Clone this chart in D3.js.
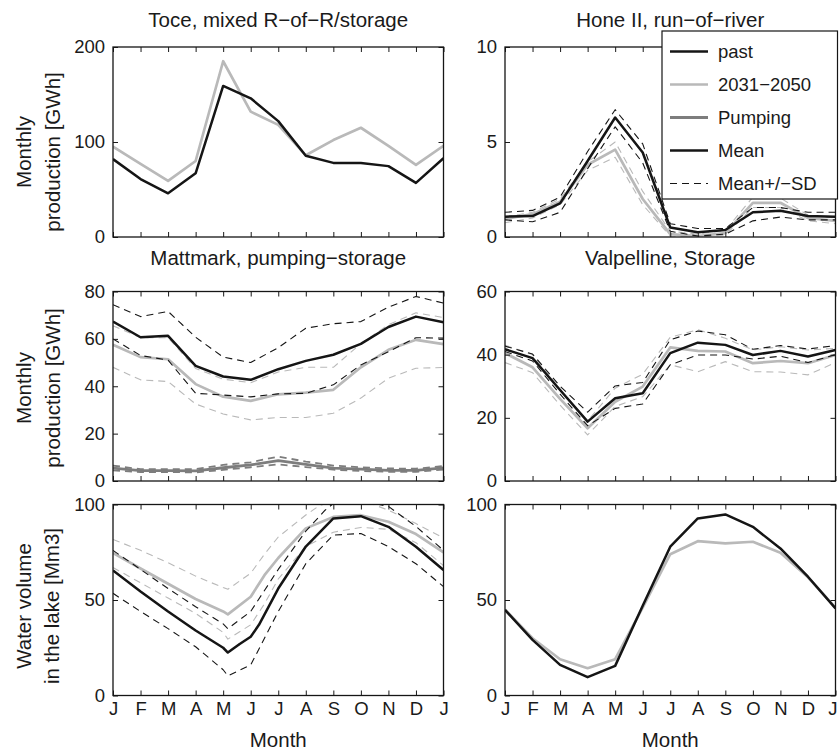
<!DOCTYPE html>
<html>
<head>
<meta charset="utf-8">
<script src="https://cdn.jsdelivr.net/npm/d3@7/dist/d3.min.js"></script>
<style>
  html, body { margin: 0; padding: 0; background: #fff; }
  svg { display: block; font-family: "Liberation Sans", Arial, Helvetica, sans-serif; }
  .tick text { font-size: 18.5px; fill: #1a1a1a; }
  .tick line { stroke: #1a1a1a; stroke-width: 1; }
</style>
</head>
<body>
<svg id="chart" width="839" height="751"></svg>
<script>
// Month ticks, January to the following January
const monthLabels = ["J", "F", "M", "A", "M", "J", "J", "A", "S", "O", "N", "D", "J"];

// Toce, mixed run-of-river / storage: monthly production [GWh]
const tocePast   = [82, 61, 46, 67, 159, 146, 122, 85.5, 78, 78, 74.6, 57, 83];
const toceFuture = [95, 77, 59, 80, 185, 132, 118, 86, 102, 115, 96, 76, 96];

// Hone II, run-of-river: monthly production [GWh]
const honePast       = [1.07, 1.1, 1.77, 4.0, 6.29, 4.45, 0.5, 0.25, 0.37, 1.3, 1.38, 1.1, 1.07];
const honePastUp     = [1.3, 1.4, 2.1, 4.5, 6.7, 4.9, 0.7, 0.45, 0.45, 1.55, 1.55, 1.3, 1.3];
const honePastLo     = [0.9, 0.8, 1.3, 3.6, 5.8, 3.9, 0.3, 0.05, 0.15, 0.85, 1.05, 0.9, 0.9];
const honeFuture     = [0.95, 1.2, 1.85, 3.8, 4.6, 2.0, 0.15, 0.05, 0.2, 1.8, 1.8, 1.0, 0.85];
const honeFutureUp   = [1.05, 1.3, 2.0, 3.95, 5.0, 2.4, 0.3, 0.15, 0.35, 2.1, 2.05, 1.15, 1.0];
const honeFutureLo   = [0.75, 1.0, 1.7, 3.5, 4.2, 1.7, 0.05, 0.0, 0.1, 1.55, 1.55, 0.85, 0.7];

// Mattmark, pumping-storage: monthly production and pumping [GWh]
const mattPast       = [67.3, 60.7, 61.3, 48.6, 44.1, 42.7, 47.2, 50.7, 53.3, 57.9, 65, 69.4, 67];
const mattPastUp     = [74.4, 69.4, 71.6, 60.7, 52.3, 50, 56.3, 64.5, 66.4, 67.3, 73.4, 77.9, 75.1];
const mattPastLo     = [60, 53, 51, 37, 36.3, 35.5, 36.8, 37, 40.6, 49, 54.6, 60.5, 60.3];
const mattFuture     = [57.5, 52.3, 51.4, 40.9, 35.6, 33.8, 36.6, 37.3, 38.5, 48, 55.4, 59.6, 57.8];
const mattFutureUp   = [65.5, 60.5, 60.5, 47.5, 43, 41.5, 46, 48, 48, 58, 66, 71, 69];
const mattFutureLo   = [48, 42.7, 42, 32.5, 28.3, 25.8, 26.8, 26.8, 28.6, 35, 43.4, 47.6, 47.9];
const mattPumping    = [5.4, 4.4, 4.4, 4.3, 5.6, 6.8, 8.6, 7.0, 5.4, 5.0, 4.5, 4.5, 5.5];
const mattPumpingUp  = [6.5, 5, 5, 5, 6.8, 7.9, 10.3, 8.2, 6.5, 5.8, 5.3, 5.2, 6.3];
const mattPumpingLo  = [4.5, 3.8, 3.8, 3.6, 4.7, 5.8, 7.0, 5.9, 4.8, 4.2, 3.9, 3.9, 4.8];

// Valpelline, storage: monthly production [GWh]
const valPast        = [41.7, 38.9, 28.8, 18.8, 26.2, 27.8, 40.5, 43.8, 43.1, 39.9, 41.2, 39.4, 41.5];
const valPastUp      = [42.7, 40.2, 30, 21.8, 30.1, 31.2, 44.7, 47.5, 46.3, 41.7, 42.9, 41.8, 42.9];
const valPastLo      = [41, 38, 27.5, 17.5, 23, 24.4, 36.8, 39.9, 39.9, 38.6, 39.5, 37.5, 40];
const valFuture      = [40.5, 36, 26, 16.7, 25.1, 29.9, 42.3, 41.2, 41, 37.3, 38, 37.3, 39.9];
const valFutureUp    = [43, 40, 29, 19, 29.4, 33.8, 45.5, 47.9, 45.2, 41.5, 42.5, 41.5, 42];
const valFutureLo    = [37.5, 34.3, 24, 14.6, 23.6, 26.7, 36.8, 34.6, 37.8, 34.6, 34.5, 33.6, 37.5];

// Mattmark lake volume [Mm3], as [month position, value]
const lakeMattPast     = [[0,65.5],[1,54.5],[2,44],[3,34],[4,25],[4.17,22.5],[4.6,27],[5,30.8],[5.3,37],[6,56],[7,78],[8,92.7],[9,93.9],[10,88.3],[11,77.9],[12,65.7]];
const lakeMattPastUp   = [[0,76],[1,66],[2,56],[3,46.5],[4,37.5],[4.17,35],[5,44],[5.5,55],[6,66],[7,86],[7.7,97],[8,100.5],[9,102],[10,99],[11,88.5],[12,76]];
const lakeMattPastLo   = [[0,53.5],[1,44],[2,35],[3,25.5],[4,13.5],[4.17,10.3],[5,16],[5.5,30],[6,44],[7,69],[8,84],[9,84.8],[10,78],[11,69],[12,57]];
const lakeMattFuture   = [[0,74.7],[1,66.5],[2,58.5],[3,50.5],[4,44],[4.17,42.5],[5,51.7],[5.5,63],[6,72],[7,87.5],[8,93.5],[9,94.4],[10,91],[11,84.5],[12,75]];
const lakeMattFutureUp = [[0,81.7],[1,76],[2,69.5],[3,62.5],[4,56.5],[4.17,55.6],[5,64],[5.5,74],[6,83],[7,94.5],[7.5,99.5],[8,101.5],[9,102.5],[10,97],[11,90],[12,82.5]];
const lakeMattFutureLo = [[0,67],[1,59],[2,51],[3,43],[4,33],[4.17,29.5],[5,37],[5.5,48],[6,61],[7,78],[8,85.5],[9,88],[10,87],[11,80],[12,68]];

// Valpelline lake volume [Mm3]
const lakeValPast   = [44.8, 29.1, 16, 9.6, 15.5, 47, 77.9, 92.7, 94.8, 88.3, 77, 62.2, 45.6];
const lakeValFuture = [45, 30, 19, 14.3, 19, 46, 74, 80.8, 79.6, 80.5, 74.7, 61.9, 46];

// Y-axis ticks per panel
const toceTicks = [0, 100, 200];
const honeTicks = [0, 5, 10];
const mattTicks = [0, 20, 40, 60, 80];
const valTicks  = [0, 20, 40, 60];
const lakeTicks = [0, 50, 100];

const titles = ["Toce, mixed R\u2212of\u2212R/storage", "Hone II, run\u2212of\u2212river",
                "Mattmark, pumping\u2212storage", "Valpelline, Storage"];
const legendLabels = ["past", "2031\u22122050", "Pumping", "Mean", "Mean+/\u2212SD"];

// ---- styles ----
const BLACK = "#151515", LIGHT = "#b9b9b9", PUMP = "#7d7d7d";
const styles = {
  past:     { stroke: BLACK, width: 2.5, dash: null },
  future:   { stroke: LIGHT, width: 2.7, dash: null },
  pastSD:   { stroke: BLACK, width: 1.1, dash: "7,5" },
  futureSD: { stroke: LIGHT, width: 1.1, dash: "7,5" },
  pump:     { stroke: PUMP,  width: 2.8, dash: null },
  pumpSD:   { stroke: PUMP,  width: 1.8, dash: "7,5" }
};

const svg = d3.select("#chart");
const cols = [{ x0: 113, x1: 443.5 }, { x0: 505, x1: 835.5 }];
const rows = [{ y0: 47, y1: 237 }, { y0: 291.5, y1: 481 }, { y0: 504.5, y1: 695.5 }];

let clipId = 0;
function panel(col, row, yMax, yTicks, showXLabels, series) {
  const c = cols[col], r = rows[row];
  const x = d3.scaleLinear().domain([0, 12]).range([c.x0, c.x1]);
  const y = d3.scaleLinear().domain([0, yMax]).range([r.y1, r.y0]);
  const g = svg.append("g");

  const id = "clip" + (clipId++);
  g.append("clipPath").attr("id", id).append("rect")
    .attr("x", c.x0).attr("y", r.y0).attr("width", c.x1 - c.x0).attr("height", r.y1 - r.y0);

  const lines = g.append("g").attr("clip-path", `url(#${id})`);
  series.forEach(s => {
    const pts = Array.isArray(s.data[0]) ? s.data : s.data.map((v, i) => [i, v]);
    const st = styles[s.style];
    lines.append("path")
      .attr("d", d3.line().x(d => x(d[0])).y(d => y(d[1]))(pts))
      .attr("fill", "none")
      .attr("stroke", st.stroke)
      .attr("stroke-width", st.width)
      .attr("stroke-dasharray", st.dash)
      .attr("stroke-linejoin", "round");
  });

  const ticksX = d3.range(13);
  const bottom = d3.axisBottom(x).tickValues(ticksX).tickSizeInner(-5).tickSizeOuter(0).tickPadding(6)
    .tickFormat(showXLabels ? (d => monthLabels[d]) : () => "");
  const top = d3.axisTop(x).tickValues(ticksX).tickSizeInner(-5).tickSizeOuter(0).tickFormat(() => "");
  const left = d3.axisLeft(y).tickValues(yTicks).tickSizeInner(-5).tickSizeOuter(0).tickPadding(8);
  const right = d3.axisRight(y).tickValues(yTicks).tickSizeInner(-5).tickSizeOuter(0).tickFormat(() => "");

  const gb = g.append("g").attr("transform", `translate(0,${r.y1})`).call(bottom);
  g.append("g").attr("transform", `translate(0,${r.y0})`).call(top);
  g.append("g").attr("transform", `translate(${c.x0},0)`).call(left);
  g.append("g").attr("transform", `translate(${c.x1},0)`).call(right);
  g.selectAll(".domain").remove();
  g.selectAll(".tick text").attr("font-family", null).attr("font-size", null);
  // keep the last month label of the right-hand column inside the page
  if (showXLabels && col === 1) {
    gb.selectAll(".tick text").filter(d => d === 12).attr("text-anchor", "end").attr("dx", "0.08em");
  }

  g.append("rect")
    .attr("x", c.x0).attr("y", r.y0).attr("width", c.x1 - c.x0).attr("height", r.y1 - r.y0)
    .attr("fill", "none").attr("stroke", BLACK).attr("stroke-width", 1.3);
  return { x, y, c, r };
}

// Row 1
panel(0, 0, 200, toceTicks, false, [
  { data: toceFuture, style: "future" },
  { data: tocePast, style: "past" }
]);
panel(1, 0, 10, honeTicks, false, [
  { data: honeFutureUp, style: "futureSD" },
  { data: honeFutureLo, style: "futureSD" },
  { data: honeFuture, style: "future" },
  { data: honePastUp, style: "pastSD" },
  { data: honePastLo, style: "pastSD" },
  { data: honePast, style: "past" }
]);

// Row 2
panel(0, 1, 80, mattTicks, false, [
  { data: mattFutureUp, style: "futureSD" },
  { data: mattFutureLo, style: "futureSD" },
  { data: mattFuture, style: "future" },
  { data: mattPastUp, style: "pastSD" },
  { data: mattPastLo, style: "pastSD" },
  { data: mattPast, style: "past" },
  { data: mattPumping, style: "pump" },
  { data: mattPumpingUp, style: "pumpSD" },
  { data: mattPumpingLo, style: "pumpSD" }
]);
panel(1, 1, 60, valTicks, false, [
  { data: valFutureUp, style: "futureSD" },
  { data: valFutureLo, style: "futureSD" },
  { data: valFuture, style: "future" },
  { data: valPastUp, style: "pastSD" },
  { data: valPastLo, style: "pastSD" },
  { data: valPast, style: "past" }
]);

// Row 3
panel(0, 2, 100, lakeTicks, true, [
  { data: lakeMattFutureUp, style: "futureSD" },
  { data: lakeMattFutureLo, style: "futureSD" },
  { data: lakeMattFuture, style: "future" },
  { data: lakeMattPastUp, style: "pastSD" },
  { data: lakeMattPastLo, style: "pastSD" },
  { data: lakeMattPast, style: "past" }
]);
panel(1, 2, 100, lakeTicks, true, [
  { data: lakeValFuture, style: "future" },
  { data: lakeValPast, style: "past" }
]);

// Titles
const titleFont = 20.5;
function text(x, y, str, opts = {}) {
  const t = svg.append("text").attr("x", x).attr("y", y).text(str)
    .attr("font-size", opts.size || titleFont).attr("fill", "#1a1a1a")
    .attr("text-anchor", opts.anchor || "middle");
  if (opts.rotate) t.attr("transform", `rotate(-90,${x},${y})`);
  return t;
}
const cx = cols.map(c => (c.x0 + c.x1) / 2);
text(cx[0], 27, titles[0]);
text(cx[1], 27, titles[1]);
text(cx[0], 265, titles[2]);
text(cx[1], 265, titles[3]);

// Y-axis labels (two lines each, rotated)
text(31, 152, "Monthly", { rotate: true });
text(60, 152, "production [GWh]", { rotate: true });
text(31, 388, "Monthly", { rotate: true });
text(60, 388, "production [GWh]", { rotate: true });
text(31, 606, "Water volume", { rotate: true });
text(59, 606, "in the lake [Mm3]", { rotate: true });

// X-axis labels
text(cx[0], 747, "Month");
text(cx[1], 747, "Month");

// Legend
const lg = svg.append("g");
const lgBox = { x: 662, y: 31, w: 175.5, h: 168 };
lg.append("rect").attr("x", lgBox.x).attr("y", lgBox.y).attr("width", lgBox.w).attr("height", lgBox.h)
  .attr("fill", "#fff").attr("stroke", BLACK).attr("stroke-width", 1.2);
const lgStyles = ["past", "future", "pump", "past", "pastSD"];
legendLabels.forEach((lab, i) => {
  const yy = 51.5 + i * 33;
  const st = styles[lgStyles[i]];
  lg.append("line").attr("x1", 670).attr("x2", 708).attr("y1", yy).attr("y2", yy)
    .attr("stroke", st.stroke).attr("stroke-width", st.width).attr("stroke-dasharray", st.dash);
  lg.append("text").attr("x", 718).attr("y", yy).attr("dy", "0.35em")
    .attr("font-size", 18.5).attr("fill", "#1a1a1a").text(lab);
});
</script>
</body>
</html>
